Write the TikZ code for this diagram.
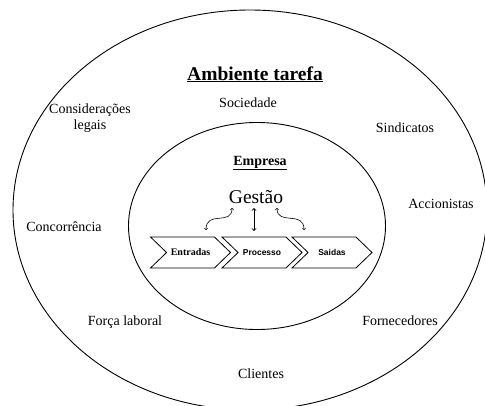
\documentclass[tikz,border=0pt]{standalone}
\usepackage{fontspec}
\setmainfont{Liberation Serif}
\newfontfamily\arialfont{Liberation Sans}
\usetikzlibrary{positioning}
\usetikzlibrary{shapes.symbols}

\begin{document}
\begin{tikzpicture}[x=1pt,y=-1pt,
		fator/.style={font=\fontsize{14}{16}\selectfont,anchor=base,inner sep=0pt},
		etapa/.style={draw,line width=0.8pt,signal,signal to=east,signal from=west,signal pointer angle=88,minimum width=80pt,minimum height=31pt,inner sep=0pt},
		seta/.style={<->,line width=0.6pt}]
				\clip (0,0) rectangle (485,405);
				%Ellipses
				\draw[line width=0.9pt] (250,210) ellipse [x radius=237,y radius=200];
				\draw[line width=0.9pt] (257,226) ellipse [x radius=128.5,y radius=103.5];

				%Nodes
				\node[fator,font=\fontsize{19.5}{22}\selectfont\bfseries] (ambiente) at (255,80) {\underline{Ambiente tarefa}};
				\node[fator] (sociedade) 	at (248,107) {Sociedade};
				\node[fator,align=center] (legais) at (90,129) {Considerações\\legais};
				\node[fator] (sindicatos) 	at (405,132) {Sindicatos};
				\node[fator] (accionistas) 	at (441,208) {Accionistas};
				\node[fator] (concorrencia) at (64,231) {Concorrência};
				\node[fator] (forca) 		at (125,325) {Força laboral};
				\node[fator] (fornecedores) at (400,325) {Fornecedores};
				\node[fator] (clientes) 	at (261,378) {Clientes};
				\node[fator,font=\fontsize{14}{16}\selectfont\bfseries] (empresa) at (260,165) {\underline{Empresa}};
				\node[fator,font=\fontsize{19.5}{22}\selectfont] (gestao) at (256,203) {Gestão};

				\node[etapa,font=\fontsize{10}{12}\selectfont\bfseries] (entradas) at (190.5,252.5) {Entradas};
				\node[etapa,font=\arialfont\fontsize{8.5}{10}\selectfont\bfseries] (processo) at (262,252.5) {Processo};
				\node[etapa,font=\arialfont\fontsize{8.5}{10}\selectfont\bfseries] (saidas) at (332,252.5) {Saidas};

				\coordinate (g1) at (232,208);
				\coordinate (g2) at (254,208);
				\coordinate (g3) at (277,208);
				\coordinate (e1) at (206,230);
				\coordinate (e2) at (254,231);
				\coordinate (e3) at (304,230);

				%Arrows
				\draw[seta] (g1) .. controls (232,226) and (206,210) .. (e1);
				\draw[seta,line width=0.9pt] (g2) -- (e2);
				\draw[seta] (g3) .. controls (277,226) and (304,210) .. (e3);

		\end{tikzpicture}
\end{document}
